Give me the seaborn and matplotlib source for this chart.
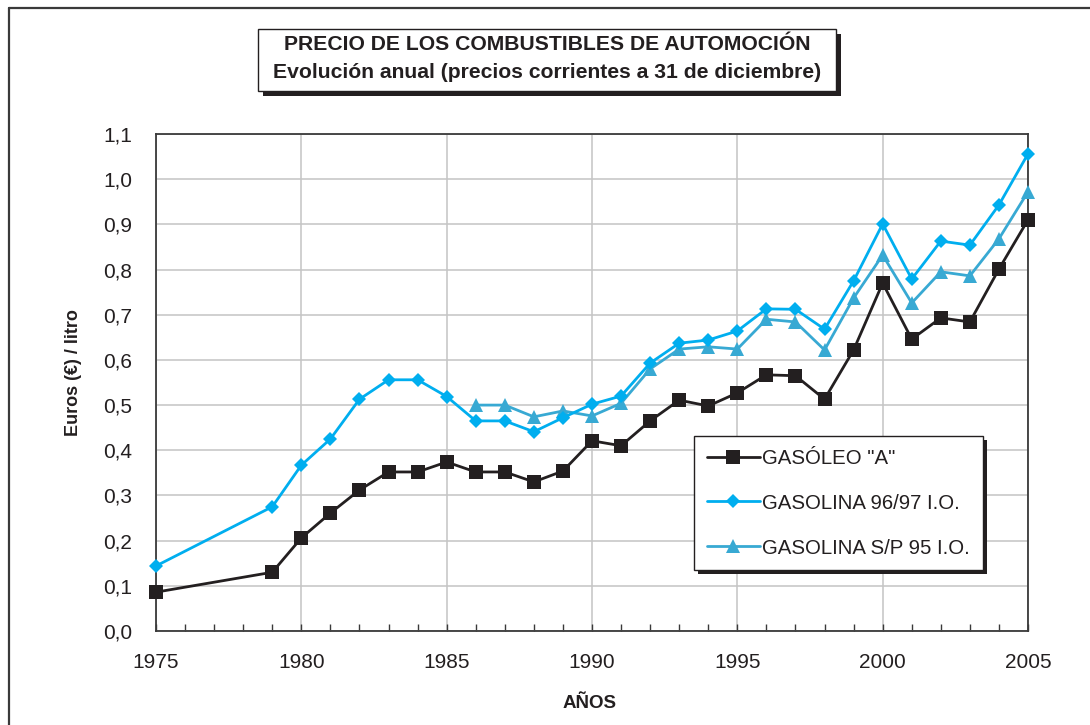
import numpy as np
import pandas as pd
import matplotlib
matplotlib.use("Agg")
import matplotlib.pyplot as plt
import seaborn as sns
from matplotlib.patches import Rectangle
from matplotlib.lines import Line2D
from matplotlib.ticker import MultipleLocator, FuncFormatter

# ---------------- data ----------------
years_all = [1975, 1979, 1980, 1981, 1982, 1983, 1984, 1985, 1986, 1987, 1988,
             1989, 1990, 1991, 1992, 1993, 1994, 1995, 1996, 1997, 1998, 1999,
             2000, 2001, 2002, 2003, 2004, 2005]
gasoleo = [0.086, 0.130, 0.206, 0.261, 0.312, 0.352, 0.352, 0.374, 0.352, 0.352,
           0.330, 0.354, 0.421, 0.410, 0.465, 0.511, 0.498, 0.527, 0.567, 0.565,
           0.513, 0.622, 0.770, 0.646, 0.693, 0.684, 0.801, 0.910]
gasolina_9697 = [0.144, 0.275, 0.367, 0.425, 0.513, 0.556, 0.556, 0.519, 0.465,
                 0.465, 0.441, 0.472, 0.502, 0.520, 0.593, 0.637, 0.644, 0.664,
                 0.713, 0.712, 0.668, 0.775, 0.901, 0.779, 0.863, 0.854, 0.943,
                 1.056]
years_sp95 = [1986, 1987, 1988, 1989, 1990, 1991, 1992, 1993, 1994, 1995, 1996,
              1997, 1998, 1999, 2000, 2001, 2002, 2003, 2004, 2005]
gasolina_sp95 = [0.500, 0.500, 0.474, 0.487, 0.476, 0.504, 0.580, 0.624, 0.629,
                 0.624, 0.690, 0.684, 0.622, 0.737, 0.832, 0.726, 0.795, 0.786,
                 0.868, 0.972]
labels = ['GASÓLEO "A"', 'GASOLINA 96/97 I.O.', 'GASOLINA S/P 95 I.O.']
title1 = "PRECIO DE LOS COMBUSTIBLES DE AUTOMOCIÓN"
title2 = "Evolución anual (precios corrientes a 31 de diciembre)"
xlabel = "AÑOS"
ylabel = "Euros (€) / litro"

# ---------------- style ----------------
sns.set_theme(style="white")
plt.rcParams['font.family'] = ['Liberation Sans', 'DejaVu Sans']

W, H = 1090, 725
fig = plt.figure(figsize=(W / 100, H / 100), dpi=100)
fig.patch.set_facecolor("white")

def fx(px):
    return px / W

def fy(py):
    return 1 - py / H

ax_l, ax_r, ax_t, ax_b = 156, 1028, 134, 631
aw, ah = ax_r - ax_l, ax_b - ax_t
ax = fig.add_axes([fx(ax_l), fy(ax_b), fx(aw), ah / H])

c_gas = "#231f20"
c_9697 = "#00aeef"
c_sp95 = "#38a9d3"

sns.lineplot(x=years_all, y=gasoleo, ax=ax, color=c_gas, lw=2.0, marker="s",
             markersize=9.5, markeredgewidth=0, label=labels[0], clip_on=False,
             zorder=5)
sns.lineplot(x=years_all, y=gasolina_9697, ax=ax, color=c_9697, lw=2.0, marker="D",
             markersize=7, markeredgewidth=0, label=labels[1], clip_on=False,
             zorder=6)
sns.lineplot(x=years_sp95, y=gasolina_sp95, ax=ax, color=c_sp95, lw=2.0, marker="^",
             markersize=9.5, markeredgewidth=0, label=labels[2], clip_on=False,
             zorder=4)

ax.set_xlim(1975, 2005)
ax.set_ylim(0, 1.1)
ax.xaxis.set_major_locator(MultipleLocator(5))
ax.xaxis.set_minor_locator(MultipleLocator(1))
ax.yaxis.set_major_locator(MultipleLocator(0.1))
ax.yaxis.set_major_formatter(FuncFormatter(lambda v, p: f"{v:.1f}".replace(".", ",")))

ax.grid(True, which="major", color="#c4c4c4", lw=1.1)
ax.set_axisbelow(True)
for s in ax.spines.values():
    s.set_color("#3a3a3a")
    s.set_linewidth(1.3)

ax.tick_params(axis="x", which="both", direction="in", length=5, width=1,
               color="#3a3a3a", bottom=True, top=False, labelsize=15, pad=16,
               labelcolor="#231f20")
ax.tick_params(axis="y", which="both", length=0, labelsize=15, pad=17,
               labelcolor="#231f20")

ax.set_xlabel(xlabel, fontsize=13.5, fontweight="bold", color="#231f20")
ax.set_ylabel(ylabel, fontsize=13, fontweight="bold", color="#231f20")
ax.xaxis.set_label_coords((590 - ax_l) / aw, (ax_b - 695) / ah)
ax.yaxis.set_label_coords((82 - ax_l) / aw, (ax_b - 373) / ah)

# legend
leg = ax.legend(loc="upper left",
                bbox_to_anchor=((694 - ax_l) / aw, (ax_b - 436) / ah),
                frameon=True, fancybox=False, shadow=False, fontsize=14.7,
                handlelength=2.6, handletextpad=0.12, labelspacing=1.27,
                borderpad=0.62, borderaxespad=0)
leg.get_frame().set_edgecolor("#231f20")
leg.get_frame().set_linewidth(1.0)
leg.get_frame().set_facecolor("white")
leg.get_frame().set_alpha(1)
leg.set_zorder(10)
for t in leg.get_texts():
    t.set_color("#231f20")

# outer frame (top and left)
fig.add_artist(Line2D([fx(9), 1], [fy(8), fy(8)], color="#3a3a3a", lw=1.6,
                      transform=fig.transFigure))
fig.add_artist(Line2D([fx(9), fx(9)], [fy(8), 0], color="#3a3a3a", lw=1.6,
                      transform=fig.transFigure))

# title box with shadow
bx0, by0, bx1, by1 = 258, 29, 836, 91
off = 5
fig.add_artist(Rectangle((fx(bx0 + off), fy(by1 + off)), fx(bx1 - bx0), (by1 - by0) / H,
                         transform=fig.transFigure, facecolor="#231f20",
                         edgecolor="none", zorder=1))
fig.add_artist(Rectangle((fx(bx0), fy(by1)), fx(bx1 - bx0), (by1 - by0) / H,
                         transform=fig.transFigure, facecolor="white",
                         edgecolor="#231f20", lw=1.0, zorder=2))
fig.text(fx((bx0 + bx1) / 2), fy(45), title1, ha="center", va="center",
         fontsize=15.2, fontweight="bold", color="#231f20", zorder=3)
fig.text(fx((bx0 + bx1) / 2), fy(72), title2, ha="center", va="center",
         fontsize=15.2, fontweight="bold", color="#231f20", zorder=3)

# legend shadow
fig.canvas.draw()
bb = leg.get_window_extent()
sh_off = 4
ax.add_artist(Rectangle((bb.x0 + sh_off, bb.y0 - sh_off), bb.width, bb.height,
                        transform=None, facecolor="#231f20", edgecolor="none",
                        zorder=9))

fig.savefig("out.png", dpi=100, facecolor="white")
